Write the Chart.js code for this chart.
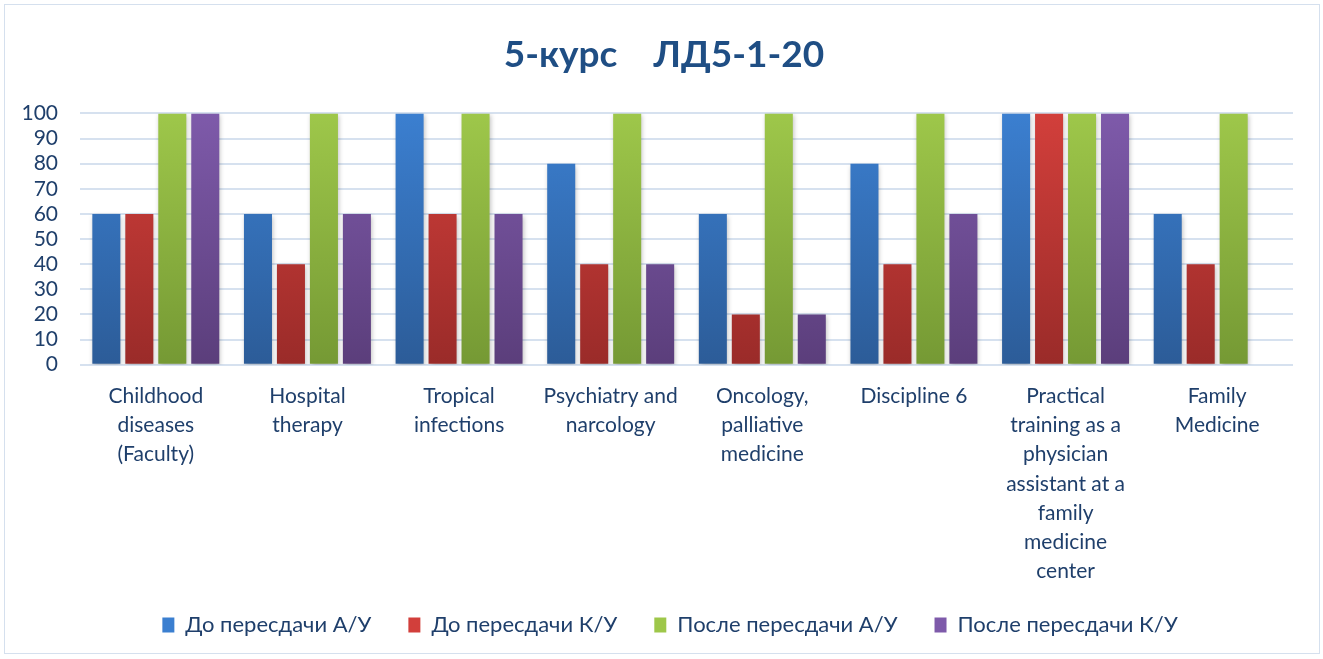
<!DOCTYPE html>
<html>
<head>
<meta charset="utf-8">
<script src="https://cdn.jsdelivr.net/npm/chart.js@4"></script>
<style>
  html, body { margin: 0; padding: 0; background: #fff; }
  #wrap { position: absolute; left: 4px; top: 4px; width: 1316px; height: 650px; border: 1px solid #d5e0ee; box-sizing: border-box; }
  #chart { position: absolute; left: 0; top: 0; }
</style>
</head>
<body>
<div id="wrap"><canvas id="chart" width="1314" height="648"></canvas></div>
<script>
// Данные диаграммы
var categories = [
  ['Childhood', 'diseases', '(Faculty)'],
  ['Hospital', 'therapy'],
  ['Tropical', 'infections'],
  ['Psychiatry and', 'narcology'],
  ['Oncology,', 'palliative', 'medicine'],
  ['Discipline 6'],
  ['Practical', 'training as a', 'physician', 'assistant at a', 'family', 'medicine', 'center'],
  ['Family', 'Medicine']
];
var seriesNames = ['До пересдачи А/У', 'До пересдачи К/У', 'После пересдачи А/У', 'После пересдачи К/У'];
var doAU = [60, 60, 100, 80, 60, 80, 100, 60];
var doKU = [60, 40, 60, 40, 20, 40, 100, 40];
var posleAU = [100, 100, 100, 100, 100, 100, 100, 100];
var posleKU = [100, 60, 60, 40, 20, 60, 100, null];
var yTicks = [0, 10, 20, 30, 40, 50, 60, 70, 80, 90, 100];

// цвета: верх / низ градиента
var palette = [
  ['#3b7fd0', '#2c5c98'],
  ['#d23f3b', '#9a2b29'],
  ['#9ec74a', '#759934'],
  ['#7e5aaa', '#5b3e7b']
];
var textColor = '#1f3f6b';
var font = "Lato, 'Open Sans', sans-serif";

function grad(i) {
  return function (ctx) {
    var area = ctx.chart.chartArea;
    if (!area) return palette[i][0];
    var g = ctx.chart.ctx.createLinearGradient(0, area.top, 0, area.bottom);
    g.addColorStop(0, palette[i][0]);
    g.addColorStop(1, palette[i][1]);
    return g;
  };
}

// лёгкая тень под столбцами
var shadowPlugin = {
  id: 'barShadow',
  beforeDatasetsDraw: function (chart) {
    var c = chart.ctx;
    c.save();
    c.shadowColor = 'rgba(0,0,0,0.28)';
    c.shadowBlur = 5;
    c.shadowOffsetX = 1;
    c.shadowOffsetY = 2;
  },
  afterDatasetsDraw: function (chart) {
    chart.ctx.restore();
  }
};

// сдвиг блока (заголовок, легенда) при отрисовке
function shiftDraw(box, dx, dy) {
  var draw = box.draw;
  box.draw = function () {
    var l = this.left, r = this.right, t = this.top;
    this.left += dx; this.right += dx; this.top += dy;
    draw.apply(this, arguments);
    this.left = l; this.right = r; this.top = t;
  };
}

// легенда: широкие промежутки между пунктами, но без лишней высоты
var boxFix = {
  id: 'boxFix',
  beforeLayout: function (chart) {
    var lg = chart.legend;
    if (lg && !lg._fixed) {
      var fit = lg.fit;
      lg.fit = function () { fit.call(this); this.height = 46; };
      shiftDraw(lg, 14, -18);
      lg._fixed = true;
    }
    var tt = chart.titleBlock;
    if (tt && !tt._fixed) {
      shiftDraw(tt, 8, 0);
      tt._fixed = true;
    }
  }
};

var values = [doAU, doKU, posleAU, posleKU];

new Chart(document.getElementById('chart'), {
  type: 'bar',
  data: {
    labels: categories,
    datasets: values.map(function (v, i) {
      return {
        label: seriesNames[i],
        data: v,
        backgroundColor: grad(i),
        borderWidth: 0,
        categoryPercentage: 0.87,
        barPercentage: 0.85
      };
    })
  },
  plugins: [shadowPlugin, boxFix],
  options: {
    responsive: false,
    animation: false,
    layout: { padding: { left: 14, right: 26, top: 28, bottom: 12 } },
    plugins: {
      title: {
        display: true,
        text: '5-курс    ЛД5-1-20',
        color: '#1f4e84',
        font: { family: font, size: 37, weight: 'bold' },
        padding: { top: 0, bottom: 36 }
      },
      legend: {
        position: 'bottom',
        labels: {
          color: textColor,
          font: { family: font, size: 22 },
          boxWidth: 12,
          boxHeight: 15,
          padding: 37,
          generateLabels: function (chart) {
            return seriesNames.map(function (n, i) {
              return {
                text: n,
                fillStyle: palette[i][0],
                strokeStyle: palette[i][0],
                lineWidth: 0,
                fontColor: textColor,
                datasetIndex: i
              };
            });
          }
        }
      },
      tooltip: { enabled: false }
    },
    scales: {
      x: {
        grid: { display: false },
        border: { display: false },
        ticks: {
          color: textColor,
          font: { family: font, size: 21, lineHeight: 1.39 },
          maxRotation: 0,
          autoSkip: false,
          padding: 9
        }
      },
      y: {
        min: 0,
        max: 100,
        afterBuildTicks: function (axis) {
          axis.ticks = yTicks.map(function (v) { return { value: v }; });
        },
        afterFit: function (axis) { axis.width = 61; },
        grid: { color: '#d6e1ef', lineWidth: 2, drawTicks: false },
        border: { display: false },
        ticks: {
          color: textColor,
          font: { family: font, size: 21 },
          padding: 22,
          autoSkip: false
        }
      }
    }
  }
});
</script>
</body>
</html>
